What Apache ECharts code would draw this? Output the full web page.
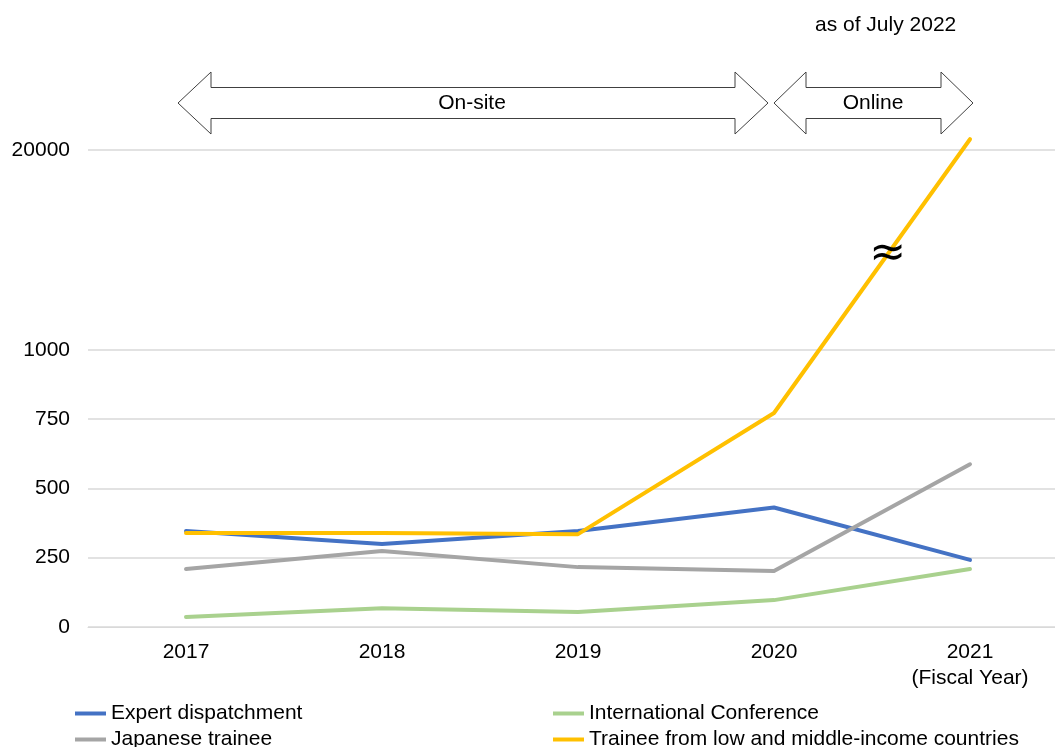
<!DOCTYPE html>
<html><head><meta charset="utf-8">
<script src="https://cdn.jsdelivr.net/npm/echarts@6/dist/echarts.min.js"></script>
<style>html,body{margin:0;padding:0;background:#fff}#c{width:1055px;height:747px}</style>
</head><body><div id="c"></div>
<script>
const categories = ['2017', '2018', '2019', '2020', '2021\n(Fiscal Year)'];
const expertDispatchment = [346, 299, 346, 431, 242];
const internationalConference = [36, 68, 54, 97, 209];
const japaneseTrainee = [209, 274, 216, 202, 587];
const traineeLowMiddle = [339, 339, 335, 772, 21000];
const yTickLabels = [0, 250, 500, 750, 1000, 20000];

// broken axis: 0-1000 linear, 1000-20000 compressed
const BREAK = 1000, TOP = 20000, UPPER_SPAN = 721.5;
function fwd(v) { return v <= BREAK ? v : BREAK + (v - BREAK) * UPPER_SPAN / (TOP - BREAK); }
function inv(m) { return m <= BREAK + 1e-6 ? m : BREAK + (m - BREAK) * (TOP - BREAK) / UPPER_SPAN; }

const FONT = "'Liberation Sans', Arial, sans-serif";
const chart = echarts.init(document.getElementById('c'));

function mkSeries(name, data, color) {
  return {
    name: name, type: 'line', data: data.map(fwd),
    symbol: 'none', clip: false,
    lineStyle: { color: color, width: 4, cap: 'round', join: 'round' },
    itemStyle: { color: color },
    emphasis: { disabled: true }
  };
}

const tickVals = yTickLabels.map(fwd);
const legendCommon = {
  orient: 'vertical', top: 703, height: 80, padding: 0, itemGap: 5,
  icon: 'rect', itemWidth: 31, itemHeight: 4,
  textStyle: { fontFamily: FONT, fontSize: 21, color: '#000', lineHeight: 21 }
};

chart.setOption({
  animation: false,
  backgroundColor: '#fff',
  grid: { left: 88, width: 980, top: 128, height: 499, containLabel: false, outerBoundsMode: 'none' },
  xAxis: {
    type: 'category', data: categories, boundaryGap: true,
    axisLine: { lineStyle: { color: '#d9d9d9', width: 1 } },
    axisTick: { show: false },
    axisLabel: { fontFamily: FONT, fontSize: 21, color: '#000', margin: 12, lineHeight: 26, align: 'center' }
  },
  yAxis: {
    type: 'value', min: 0, max: 1800,
    axisLine: { show: false },
    axisTick: { show: false, customValues: tickVals },
    axisLabel: {
      customValues: tickVals, fontFamily: FONT, fontSize: 21, color: '#000', margin: 18,
      formatter: function (v) { return String(Math.round(inv(v))); }
    },
    splitLine: { show: true, lineStyle: { color: '#d9d9d9', width: 1.5 } }
  },
  legend: [
    Object.assign({ left: 75, data: ['Expert dispatchment', 'Japanese trainee'] }, legendCommon),
    Object.assign({ left: 553, data: ['International Conference', 'Trainee from low and middle-income countries'] }, legendCommon)
  ],
  series: [
    mkSeries('Expert dispatchment', expertDispatchment, '#4472C4'),
    mkSeries('International Conference', internationalConference, '#A9D18E'),
    mkSeries('Japanese trainee', japaneseTrainee, '#A5A5A5'),
    mkSeries('Trainee from low and middle-income countries', traineeLowMiddle, '#FFC000')
  ]
});

function dblArrow(x1, x2, cy, hd, hh, sh) {
  return {
    type: 'polygon', z: 10,
    shape: { points: [
      [x1, cy], [x1 + hd, cy - hh], [x1 + hd, cy - sh], [x2 - hd, cy - sh], [x2 - hd, cy - hh],
      [x2, cy], [x2 - hd, cy + hh], [x2 - hd, cy + sh], [x1 + hd, cy + sh], [x1 + hd, cy + hh]
    ] },
    style: { fill: '#fff', stroke: '#404040', lineWidth: 1 }
  };
}

// break marker position along the orange segment 2020 -> 2021
const p1 = chart.convertToPixel({ gridIndex: 0 }, [3, fwd(traineeLowMiddle[3])]);
const p2 = chart.convertToPixel({ gridIndex: 0 }, [4, fwd(traineeLowMiddle[4])]);
const t = 0.58;
const bx = p1[0] + (p2[0] - p1[0]) * t, by = p1[1] + (p2[1] - p1[1]) * t;

chart.setOption({
  graphic: [
    dblArrow(178, 768, 103, 33, 31, 15.5),
    dblArrow(774, 973, 103, 32, 31, 15.5),
    { type: 'text', z: 11, x: 472, y: 103, style: { text: 'On-site', fontFamily: FONT, fontSize: 21, fill: '#000', align: 'center', verticalAlign: 'middle' } },
    { type: 'text', z: 11, x: 873, y: 103, style: { text: 'Online', fontFamily: FONT, fontSize: 21, fill: '#000', align: 'center', verticalAlign: 'middle' } },
    { type: 'text', z: 11, x: 815, y: 25, style: { text: 'as of July 2022', fontFamily: FONT, fontSize: 21, fill: '#000', align: 'left', verticalAlign: 'middle' } },
    { type: 'text', z: 11, x: bx, y: by, style: { text: '≈', fontFamily: "'DejaVu Sans', sans-serif", fontSize: 44, fill: '#000', align: 'center', verticalAlign: 'middle' } }
  ]
});
</script>
</body></html>
